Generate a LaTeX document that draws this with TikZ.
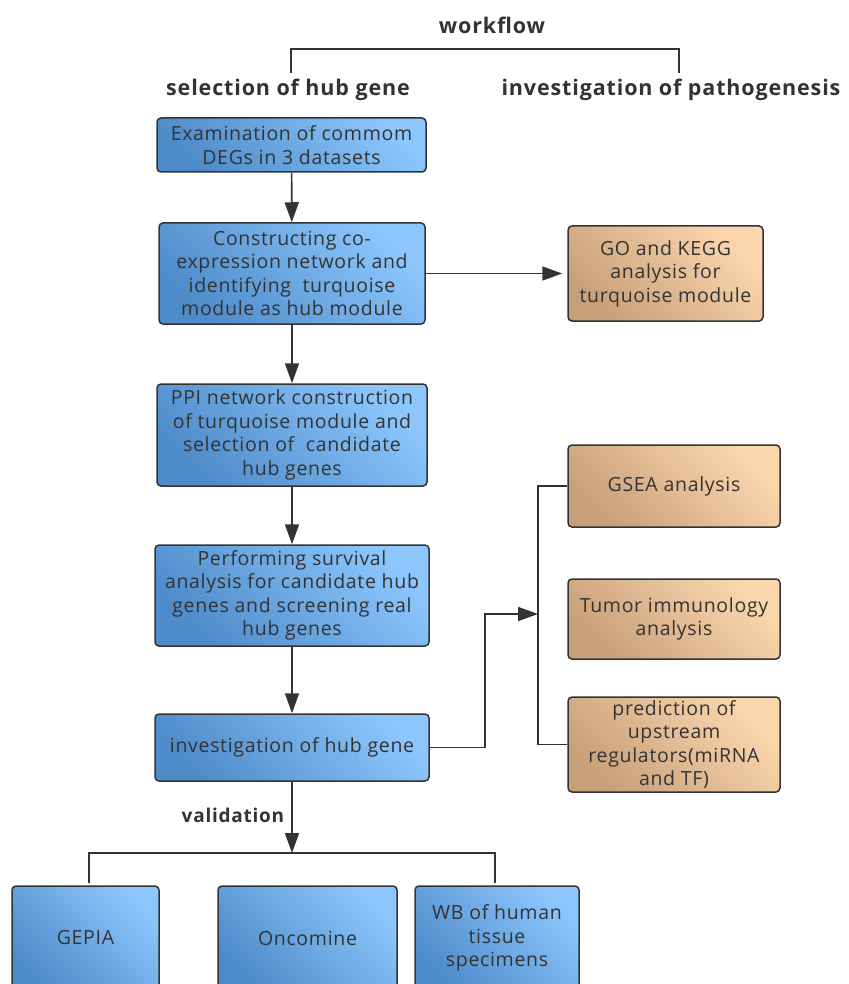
\documentclass[tikz,border=0pt]{standalone}
\usepackage{fontspec}
\setmainfont{Open Sans}
\newfontfamily\boxfont[LetterSpace=3.5]{Open Sans}
\newfontfamily\headfont[LetterSpace=4]{Open Sans}
\usetikzlibrary{arrows.meta}
\definecolor{txt}{HTML}{333333}
\definecolor{edgecol}{HTML}{333333}
\definecolor{bluelight}{HTML}{8CC6FD}
\definecolor{bluedark}{HTML}{4E8BC9}
\definecolor{orlight}{HTML}{FCD7AE}
\definecolor{ordark}{HTML}{C79F79}
\begin{document}
\begin{tikzpicture}[x=1pt,y=-1pt,
  box/.style={draw=edgecol, line width=1.5pt, rounded corners=4pt, align=center,
    text=txt, font=\boxfont\fontsize{19.5}{23.5}\selectfont, inner sep=1pt},
  bluebox/.style={box, bottom color=bluedark, top color=bluelight, shading angle=-45},
  orbox/.style={box, bottom color=ordark, top color=orlight, shading angle=-45},
  line/.style={draw=edgecol, line width=1.7pt},
  conn/.style={line, -{Triangle[length=20pt,width=14pt]}},
  head/.style={text=txt, font=\headfont\bfseries\fontsize{21.5}{25}\selectfont, inner sep=0pt}
]
\useasboundingbox (0,0) rectangle (848,984);
% headers
\node[head] (wf) at (492,25) {workflow};
\node[head] (sel) at (288,90) {selection of hub gene};
\node[head] (inv) at (671,90) {investigation of pathogenesis};
\coordinate (bl) at (291,73);
\coordinate (br) at (679,73);
\draw[line] (bl) -- ++(0,-24) -| (br);

% left column
\node[bluebox, minimum width=269pt, minimum height=54pt] (b1) at (291.5,145) {Examination of commom\\DEGs in 3 datasets};
\node[bluebox, minimum width=266pt, minimum height=101pt] (b2) at (292,273.5) {Constructing co-\\expression network and\\identifying\ \ turquoise\\module as hub module};
\node[bluebox, minimum width=270pt, minimum height=102pt] (b4) at (292,435) {PPI network construction\\of turquoise module and\\selection of\ \ candidate\\hub genes};
\node[bluebox, minimum width=274pt, minimum height=101pt] (b5) at (292,595.5) {Performing survival\\analysis for candidate hub\\genes and screening real\\hub genes};
\node[bluebox, minimum width=274pt, minimum height=67pt] (b6) at (292,747.5) {investigation of hub gene};

% right column
\node[orbox, minimum width=195pt, minimum height=95pt] (o1) at (665.5,273.5) {GO and KEGG\\analysis for\\turquoise module};
\node[orbox, minimum width=212pt, minimum height=82pt] (o2) at (674,486) {GSEA analysis};
\node[orbox, minimum width=212pt, minimum height=80pt] (o3) at (674,619) {Tumor immunology\\analysis};
\node[orbox, minimum width=212pt, minimum height=95pt] (o4) at (674,744.5) {prediction of\\upstream\\regulators(miRNA\\and TF)};

% bottom row
\node[bluebox, minimum width=147pt, minimum height=104pt] (g1) at (85.5,938) {GEPIA};
\node[bluebox, minimum width=179pt, minimum height=104pt] (g2) at (307.5,938) {Oncomine};
\node[bluebox, minimum width=164pt, minimum height=104pt] (g3) at (497,938) {WB of human\\tissue\\specimens};

% connectors
\draw[conn] (b1) -- (b2);
\draw[conn] (b2) -- (b4);
\draw[conn] (b4) -- (b5);
\draw[conn] (b5) -- (b6);
\draw[conn, shorten >=5pt] (b2.east) -- (o1.west);

\coordinate (jn) at (538,614);
\draw[conn] (b6.east) -- ++(55,0) |- (jn);
\draw[line] (o2.west) -- (o2.west -| jn) -- (o4.west -| jn) -- (o4.west);

\node[head, font=\headfont\bfseries\fontsize{19}{22}\selectfont] (val) at (233,815) {validation};
\coordinate (vj) at (292,853);
\draw[conn] (b6.south) -- (vj);
\coordinate (vl) at (89,883);
\coordinate (vr) at (495,883);
\draw[line] (vl) |- (vj) -| (vr);
\end{tikzpicture}
\end{document}
